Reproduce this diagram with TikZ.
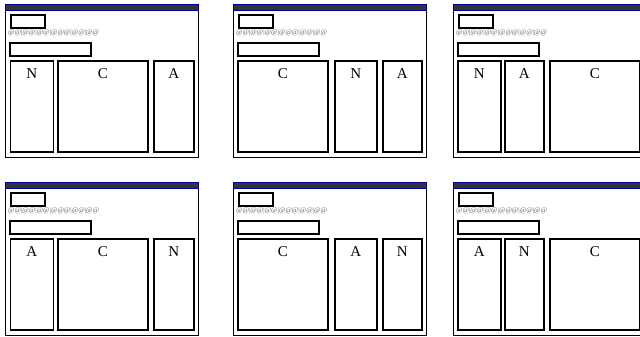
\documentclass[tikz,border=0pt]{standalone}
\usepackage{fontspec}
\setmainfont{Liberation Serif}
\usetikzlibrary{positioning}

\begin{document}
\begin{tikzpicture}[x=1pt,y=-1pt,
  frame/.style={draw,line width=1.1pt,anchor=north west,minimum width=193pt,
               minimum height=153pt,inner sep=0pt},
  titlebar/.style={draw=blue!60!black,fill=black!80,line width=0.8pt,anchor=north west,
               minimum width=193pt,minimum height=6pt,inner sep=0pt},
  logo/.style={draw,line width=1.6pt,anchor=north west,minimum width=34pt,
               minimum height=13pt,inner sep=0pt},
  navbar/.style={draw,line width=1.6pt,anchor=north west,minimum width=81pt,
               minimum height=13pt,inner sep=0pt},
  links/.style={anchor=west,inner sep=0pt,text=black!60,
               font=\fontsize{7}{8}\selectfont},
  colbox/.style={draw,line width=1.8pt,anchor=north west,minimum height=91pt,
               inner sep=0pt},
  colname/.style={anchor=north,inner sep=0pt,yshift=-8pt,
               font=\fontsize{15}{17}\selectfont},
]
  \useasboundingbox (0,0) rectangle (640,337);
  \clip (0,0) rectangle (640,337);

  % page shells
  \foreach \px/\py/\pn in {5/4/1,233/4/2,453/4/3,5/182/4,233/182/5,453/182/6}{
    \node[frame]    (frame\pn) at (\px,\py) {};
    \node[titlebar] (bar\pn)   at (\px,\py) {};
    \node[logo]     (logo\pn)  at (\px+5,\py+10) {};
    \node[links]    (links\pn) at (\px+3,\py+29) {@@|@@|@@|@@@|@@|@@};
    \node[navbar]   (nav\pn)   at (\px+4,\py+38) {};
  }

  % columns
  \foreach \x/\y/\w/\t/\n in {9.5/60/43/N/1n,57/60/90/C/1c,153/60/40/A/1a,
      237/60/90/C/2c,334/60/42/N/2n,382/60/39/A/2a,
      457/60/43/N/3n,504/60/39/A/3a,549/60/90/C/3c,
      9.5/238/43/A/4a,57/238/90/C/4c,153/238/40/N/4n,
      237/238/90/C/5c,334/238/42/A/5a,382/238/39/N/5n,
      457/238/43/A/6a,504/238/39/N/6n,549/238/90/C/6c}{
    \node[colbox,minimum width=\w pt,label={[colname]north:\t}] (col\n) at (\x,\y) {};
  }
\end{tikzpicture}
\end{document}
